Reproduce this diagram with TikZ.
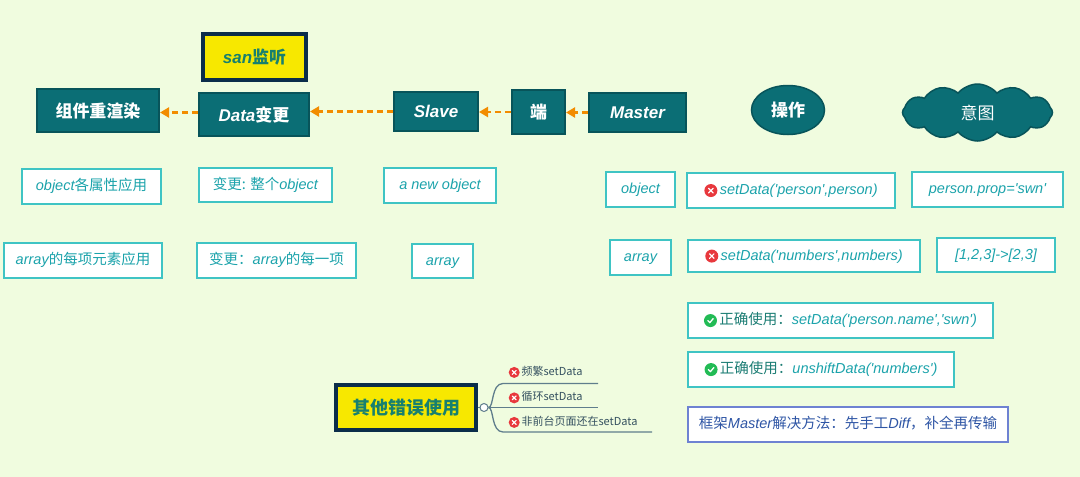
\documentclass[tikz,border=0pt]{standalone}
\usepackage{fontspec}
\setmainfont{Noto Sans CJK SC}
\newfontfamily\latf{Liberation Sans}
\usetikzlibrary{arrows.meta, positioning, shapes.geometric, shapes.symbols}
\definecolor{bgGreen}{HTML}{F0FCDF}
\definecolor{mainTeal}{HTML}{0B6E75}
\definecolor{tealEdge}{HTML}{08545A}
\definecolor{boxEdge}{HTML}{3FC4C4}
\definecolor{boxText}{HTML}{1BA3AB}
\definecolor{flowOrange}{HTML}{F28C00}
\definecolor{noteYellow}{HTML}{F7E800}
\definecolor{noteNavy}{HTML}{0B2D4A}
\definecolor{noteText}{HTML}{17806F}
\definecolor{okText}{HTML}{1C7D74}
\definecolor{errRed}{HTML}{E8383D}
\definecolor{okGreen}{HTML}{22BB55}
\definecolor{planBlue}{HTML}{6E82D2}
\definecolor{planText}{HTML}{2E55A5}
\definecolor{branchGray}{HTML}{5F7D8C}
\definecolor{branchText}{HTML}{34505F}

\newcommand{\en}[1]{{\latf\itshape #1}}
\newcommand{\erricon}[1]{\tikz[baseline=-0.5ex]{\fill[errRed] (0,0) circle (#1pt);
  \draw[white, line width=1.2pt, line cap=round] (-0.35*#1pt,-0.35*#1pt) -- (0.35*#1pt,0.35*#1pt)
  (-0.35*#1pt,0.35*#1pt) -- (0.35*#1pt,-0.35*#1pt);}}
\newcommand{\okicon}[1]{\tikz[baseline=-0.5ex]{\fill[okGreen] (0,0) circle (#1pt);
  \draw[white, line width=1.3pt, line cap=round, line join=round] (-0.42*#1pt,0) -- (-0.1*#1pt,-0.32*#1pt) -- (0.42*#1pt,0.3*#1pt);}}

\tikzset{
  flowbox/.style={draw=tealEdge, line width=2pt, fill=mainTeal, text=white,
    font=\bfseries\fontsize{17}{20}\selectfont, inner sep=0pt},
  notebox/.style={draw=noteNavy, line width=4pt, fill=noteYellow, text=noteText,
    font=\bfseries\fontsize{17}{20}\selectfont, inner sep=0pt},
  infobox/.style={draw=boxEdge, line width=1.6pt, fill=white, text=boxText,
    font=\fontsize{14.5}{17}\selectfont, inner sep=0pt, minimum height=35pt,
    text height=11pt, text depth=3pt},
  planbox/.style={infobox, draw=planBlue, text=planText},
  flowarrow/.style={-{Triangle[length=9pt,width=10pt]}, flowOrange, line width=2.2pt,
    dash pattern=on 6pt off 4pt},
  branch/.style={branchGray, line width=1.3pt},
  branchlbl/.style={text=branchText, font=\fontsize{11}{13}\selectfont, anchor=west, inner sep=0pt},
}

\begin{document}
\begin{tikzpicture}[x=1pt, y=-1pt, >=stealth]
    \fill[bgGreen] (0,0) rectangle (1080,477);
    \useasboundingbox (0,0) rectangle (1080,477);

    % flow row
    \node[notebox, minimum width=103pt, minimum height=46pt] (listen) at (254.5,57) {\en{san}监听};
    \node[flowbox, minimum width=122pt, minimum height=43pt] (render) at (98,110.5) {组件重渲染};
    \node[flowbox, minimum width=110pt, minimum height=43pt] (change) at (254,114.5) {\en{Data}变更};
    \node[flowbox, minimum width=84pt, minimum height=39pt] (slave) at (436,111.5) {\en{Slave}};
    \node[flowbox, minimum width=53pt, minimum height=44pt] (port) at (538.5,112) {端};
    \node[flowbox, minimum width=97pt, minimum height=39pt] (master) at (637.5,112.5) {\en{Master}};
    \node[ellipse, draw=tealEdge, line width=1.5pt, fill=mainTeal, text=white,
      font=\bfseries\fontsize{17}{20}\selectfont, minimum width=73pt, minimum height=49pt,
      inner sep=0pt] (op) at (788,110) {操作};
    \node[cloud, cloud puffs=12, cloud puff arc=100, aspect=2.4, draw=tealEdge, line width=1.5pt,
      fill=mainTeal, text=white, font=\fontsize{17}{20}\selectfont, minimum width=150pt,
      minimum height=57pt, inner sep=0pt] (intent) at (977.5,112.5) {意图};

    \draw[flowarrow] (master.west) -- (master.west -| port.east);
    \draw[flowarrow] (port.west) -- (port.west -| slave.east);
    \draw[flowarrow] (slave.west) -- (slave.west -| change.east);
    \draw[flowarrow] ([yshift=2pt]change.west) -- ([yshift=2pt]change.west -| render.east);

    % object row
    \node[infobox, minimum width=139.5pt] (objApply) at (91.5,186.5) {\en{object}各属性应用};
    \node[infobox, minimum width=133.5pt, minimum height=34.5pt] (objChange) at (265.5,185) {变更: 整个\en{object}};
    \node[infobox, minimum width=112.5pt] (objNew) at (440,185.5) {\en{a new object}};
    \node[infobox, minimum width=69.5pt] (objType) at (640.5,189.5) {\en{object}};
    \node[infobox, minimum width=208.5pt] (objSet) at (791,190.5) {\erricon{6.5}\,\en{setData('person',person)}};
    \node[infobox, minimum width=151.5pt] (objIntent) at (987.5,189.5) {\en{person.prop='swn'}};

    % array row
    \node[infobox, minimum width=158.5pt, minimum height=35.5pt] (arrApply) at (83,260.5) {\en{array}的每项元素应用};
    \node[infobox, minimum width=159.5pt, minimum height=35.5pt] (arrChange) at (276.5,260.5) {变更：\en{array}的每一项};
    \node[infobox, minimum width=61.5pt, minimum height=34.5pt] (arrNew) at (442.5,261) {\en{array}};
    \node[infobox, minimum width=61.5pt] (arrType) at (640.5,257.5) {\en{array}};
    \node[infobox, minimum width=232.5pt, minimum height=32.5pt] (arrSet) at (804,256) {\erricon{6.5}\,\en{setData('numbers',numbers)}};
    \node[infobox, minimum width=118.5pt, minimum height=34.5pt] (arrIntent) at (996,255) {\en{[1,2,3]->[2,3]}};

    % right usage notes
    \node[infobox, minimum width=305.5pt, minimum height=35.5pt] (okObj) at (840.5,320.5)
      {\okicon{6.5}\,\textcolor{okText}{正确使用：}\en{setData('person.name','swn')}};
    \node[infobox, minimum width=266.5pt, minimum height=35.5pt] (okArr) at (821,369.5)
      {\okicon{6.5}\,\textcolor{okText}{正确使用：}\en{unshiftData('numbers')}};
    \node[planbox, minimum width=320.5pt, minimum height=35.5pt] (plan) at (848,424.5)
      {框架\en{Master}解决方法：先手工\en{Diff}，补全再传输};

    % other misuse
    \node[notebox, minimum width=140pt, minimum height=45pt, font=\bfseries\fontsize{18}{21}\selectfont] (other) at (406,407.5) {其他错误使用};
    \node[circle, draw=branchGray, line width=1pt, fill=white, minimum size=8pt, inner sep=0pt] (hub) at (484,407.5) {};
    \coordinate (topStart) at (503,383.5);
    \coordinate (topEnd) at (598,383.5);
    \coordinate (midEnd) at (598,407.5);
    \coordinate (lowStart) at (503,432);
    \coordinate (lowEnd) at (652,432);
    \draw[branch] (other.east) -- (hub.west);
    \draw[branch] (hub.east) .. controls (494,407.5) and (491,383.5) .. (topStart) -- (topEnd);
    \draw[branch] (hub.east) -- (midEnd);
    \draw[branch] (hub.east) .. controls (494,407.5) and (491,432) .. (lowStart) -- (lowEnd);
    \node[branchlbl] (busy) at (508.5,372) {\erricon{5.5}\,频繁setData};
    \node[branchlbl] (loop) at (508.5,397.5) {\erricon{5.5}\,循环setData};
    \node[branchlbl] (hidden) at (508.5,422) {\erricon{5.5}\,非前台页面还在setData};
\end{tikzpicture}
\end{document}
